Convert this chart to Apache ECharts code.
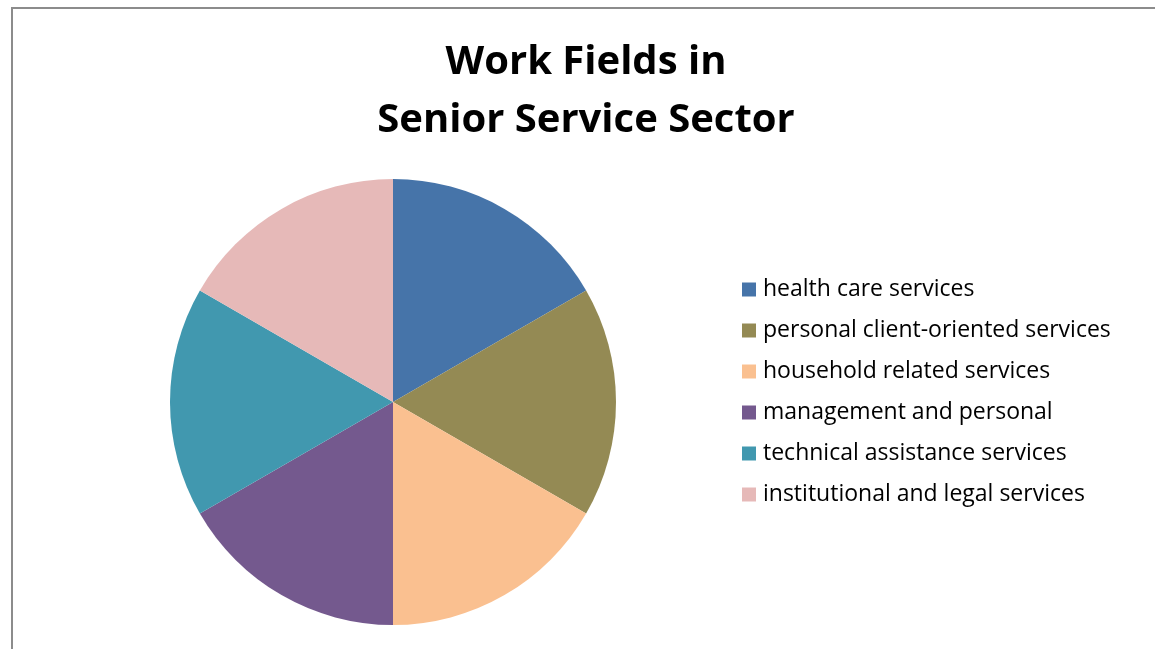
<!DOCTYPE html>
<html><head><meta charset="utf-8">
<script src="https://cdn.jsdelivr.net/npm/echarts@6/dist/echarts.min.js"></script>
<style>html,body{margin:0;padding:0;background:#fff}#c{width:1155px;height:649px}</style>
</head><body><div id="c"></div>
<script>
const categories = ['health care services','personal client-oriented services','household related services','management and personal','technical assistance services','institutional and legal services'];
const values = [1,1,1,1,1,1];
const colors = ['#4674A9','#948A54','#FAC090','#74598E','#4198AF','#E6B9B8'];
const titleLines = ['Work Fields in','Senior Service Sector'];

const chart = echarts.init(document.getElementById('c'), null, {renderer:'canvas'});
chart.setOption({
  animation:false,
  backgroundColor:'#fff',
  color: colors,
  graphic:[
    {type:'rect', shape:{x:12,y:8,width:1200,height:700}, style:{fill:'none', stroke:'#8c8c8c', lineWidth:2}},
    {type:'text', x:586, y:63, style:{text:titleLines[0], font:'bold 40px "Open Sans"', fill:'#000', align:'center', verticalAlign:'middle'}},
    {type:'text', x:586, y:121, style:{text:titleLines[1], font:'bold 40px "Open Sans"', fill:'#000', align:'center', verticalAlign:'middle'}}
  ],
  legend:{
    orient:'vertical', left:737, top:273, itemWidth:14, itemHeight:14, itemGap:18,
    icon:'rect',
    textStyle:{fontSize:23, lineHeight:23, fontFamily:'Open Sans', color:'#000', padding:[0,0,0,2]},
    data: categories
  },
  series:[{
    type:'pie', center:[393,402], radius:223, startAngle:90, clockwise:true,
    label:{show:false}, labelLine:{show:false}, silent:true,
    itemStyle:{borderWidth:0},
    data: categories.map((n,i)=>({name:n, value:values[i]}))
  }]
});
</script></body></html>
